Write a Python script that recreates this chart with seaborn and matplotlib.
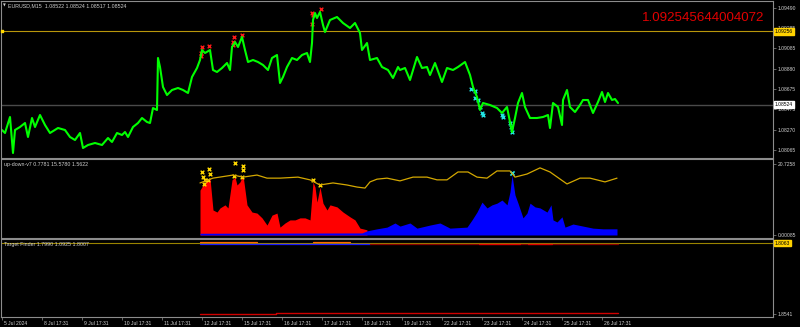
import matplotlib
matplotlib.use("Agg")
import matplotlib.pyplot as plt
import matplotlib.transforms as mtrans
import seaborn as sns

# ---------------- data ----------------
day_ticks = list(range(16))
day_labels = ["5 Jul 2024", "8 Jul 17:31", "9 Jul 17:31", "10 Jul 17:31", "11 Jul 17:31",
              "12 Jul 17:31", "15 Jul 17:31", "16 Jul 17:31", "17 Jul 17:31", "18 Jul 17:31",
              "19 Jul 17:31", "22 Jul 17:31", "23 Jul 17:31", "24 Jul 17:31", "25 Jul 17:31",
              "26 Jul 17:31"]

price_t = [0.000, 0.075, 0.200, 0.275, 0.325, 0.450, 0.575, 0.650, 0.750, 0.825, 0.950, 1.075,
           1.200, 1.400, 1.575, 1.700, 1.825, 1.950, 2.025, 2.150, 2.325, 2.500, 2.650, 2.750,
           2.875, 3.000, 3.075, 3.150, 3.275, 3.400, 3.500, 3.625, 3.700, 3.775, 3.875, 3.900,
           3.950, 4.025, 4.125, 4.250, 4.400, 4.525, 4.650, 4.750, 4.875, 4.950, 5.000, 5.075,
           5.200, 5.275, 5.375, 5.500, 5.625, 5.700, 5.750, 5.825, 5.900, 6.000, 6.075, 6.150,
           6.275, 6.400, 6.525, 6.650, 6.750, 6.875, 6.950, 7.025, 7.125, 7.250, 7.375, 7.500,
           7.625, 7.700, 7.750, 7.775, 7.825, 7.875, 7.950, 8.025, 8.075, 8.200, 8.375, 8.525,
           8.700, 8.825, 8.950, 9.000, 9.125, 9.200, 9.375, 9.500, 9.650, 9.775, 9.900, 9.950,
           10.075, 10.200, 10.375, 10.500, 10.625, 10.700, 10.825, 11.000, 11.125, 11.275,
           11.400, 11.575, 11.700, 11.775, 11.875, 11.950, 12.025, 12.200, 12.375, 12.500,
           12.625, 12.750, 12.825, 12.900, 13.000, 13.075, 13.200, 13.375, 13.525, 13.650,
           13.700, 13.775, 13.900, 14.000, 14.025, 14.125, 14.200, 14.325, 14.450, 14.525,
           14.650, 14.775, 14.900, 15.000, 15.075, 15.150, 15.250, 15.325, 15.400]
price = [1.0827, 1.0824, 1.0840, 1.0804, 1.0827, 1.0830, 1.0834, 1.0820, 1.0839, 1.0830, 1.0842,
         1.0832, 1.0824, 1.0829, 1.0827, 1.0820, 1.0817, 1.0824, 1.0809, 1.0812, 1.0814, 1.0812,
         1.0819, 1.0815, 1.0824, 1.0822, 1.0825, 1.0820, 1.0830, 1.0834, 1.0839, 1.0835, 1.0834,
         1.0849, 1.0847, 1.0899, 1.0890, 1.0870, 1.0862, 1.0867, 1.0869, 1.0867, 1.0864, 1.0880,
         1.0889, 1.0897, 1.0907, 1.0904, 1.0907, 1.0887, 1.0885, 1.0889, 1.0894, 1.0887, 1.0910,
         1.0915, 1.0910, 1.0920, 1.0907, 1.0895, 1.0897, 1.0895, 1.0892, 1.0887, 1.0899, 1.0902,
         1.0874, 1.0880, 1.0890, 1.0899, 1.0897, 1.0902, 1.0904, 1.0895, 1.0914, 1.0937, 1.0944,
         1.0939, 1.0945, 1.0932, 1.0925, 1.0937, 1.0940, 1.0934, 1.0929, 1.0934, 1.0924, 1.0907,
         1.0914, 1.0897, 1.0899, 1.0890, 1.0887, 1.0879, 1.0890, 1.0887, 1.0889, 1.0877, 1.0900,
         1.0889, 1.0890, 1.0882, 1.0894, 1.0875, 1.0889, 1.0887, 1.0890, 1.0895, 1.0882, 1.0870,
         1.0860, 1.0847, 1.0854, 1.0852, 1.0849, 1.0844, 1.0850, 1.0825, 1.0839, 1.0854, 1.0864,
         1.0850, 1.0839, 1.0839, 1.0840, 1.0842, 1.0829, 1.0854, 1.0850, 1.0832, 1.0857, 1.0867,
         1.0850, 1.0845, 1.0852, 1.0857, 1.0857, 1.0844, 1.0855, 1.0865, 1.0855, 1.0864, 1.0857,
         1.0858, 1.0854]

main_ticks = [1.09490, 1.09285, 1.09085, 1.08880, 1.08675, 1.08475, 1.08270, 1.08065]
level_yellow = 1.09256
level_bid = 1.08524

red_mark_t = [5.000, 4.975, 4.975, 5.175, 5.800, 5.775, 5.775, 6.000, 7.750, 7.775, 7.750, 7.975]
red_mark_p = [1.0910, 1.0904, 1.0901, 1.0911, 1.0920, 1.0915, 1.0912, 1.0922, 1.0944, 1.0942, 1.0933, 1.0948]
cyan_mark_t = [11.725, 11.825, 11.825, 11.900, 11.950, 12.000, 12.025, 12.500, 12.525, 12.700, 12.725, 12.750]
cyan_mark_p = [1.0868, 1.0866, 1.0859, 1.0857, 1.0850, 1.0844, 1.0842, 1.0842, 1.0840, 1.0834, 1.0830, 1.0825]

up_t = [4.950, 5.025, 5.125, 5.200, 5.275, 5.375, 5.450, 5.575, 5.650, 5.750, 5.825, 5.875,
        5.950, 6.025, 6.125, 6.250, 6.375, 6.500, 6.625, 6.750, 6.875, 6.950, 7.075, 7.200,
        7.325, 7.450, 7.575, 7.700, 7.775, 7.825, 7.875, 7.950, 8.025, 8.125, 8.200, 8.375,
        8.525, 8.700, 8.825, 8.950, 9.025, 9.125]
up_v = [13.1, 14.6, 16.1, 16.6, 7.3, 6.7, 7.9, 8.8, 7.9, 16.1, 16.9, 14.6, 15.5, 17.5, 8.8, 6.7,
        6.4, 5.0, 2.9, 5.8, 6.4, 2.3, 3.5, 4.4, 4.4, 5.0, 5.0, 4.4, 15.5, 14.0, 9.6, 14.0, 9.3,
        7.3, 8.8, 8.2, 6.7, 5.3, 4.4, 2.0, 1.8, 1.5]
down_t = [4.950, 9.000, 9.125, 9.375, 9.625, 9.825, 9.950, 10.200, 10.375, 10.700, 10.950, 11.200,
          11.625, 11.750, 11.875, 12.000, 12.125, 12.250, 12.375, 12.500, 12.625, 12.700, 12.750,
          12.825, 12.900, 13.025, 13.125, 13.200, 13.325, 13.450, 13.625, 13.725, 13.775, 13.875,
          14.000, 14.075, 14.275, 14.525, 14.775, 15.025, 15.375]
down_v = [0.5, 0.6, 1.2, 1.8, 2.3, 3.5, 2.6, 3.5, 2.0, 2.9, 3.5, 2.0, 2.3, 4.4, 6.7, 9.6, 7.9,
          8.8, 9.3, 10.2, 8.8, 12.6, 17.5, 11.7, 9.3, 5.0, 6.4, 9.3, 8.2, 7.9, 6.7, 8.8, 4.4, 3.8,
          5.3, 2.3, 3.2, 2.6, 2.0, 1.8, 1.8]
sig_t = [4.950, 5.275, 5.775, 6.025, 6.375, 6.625, 6.950, 7.400, 7.700, 7.950, 8.275, 8.625,
         8.875, 9.075, 9.200, 9.375, 9.625, 9.950, 10.275, 10.625, 10.875, 11.125, 11.400, 11.650,
         11.875, 12.125, 12.375, 12.700, 12.825, 13.125, 13.450, 13.700, 14.125, 14.450, 14.700,
         15.075, 15.375]
sig_v = [15.2, 16.6, 17.5, 16.9, 17.5, 16.6, 16.6, 16.9, 16.1, 14.6, 15.2, 14.6, 14.0, 13.7, 15.5,
         16.3, 16.6, 15.8, 16.9, 16.9, 16.1, 16.1, 18.4, 18.4, 16.9, 16.6, 18.7, 18.7, 16.9, 17.8,
         19.6, 18.4, 14.9, 16.6, 16.6, 15.5, 16.6]
ymark_t = [5.000, 5.025, 5.050, 5.075, 5.150, 5.175, 5.200, 5.825, 6.025, 6.025, 5.800, 6.000, 7.775, 7.950]
ymark_v = [18.4, 16.9, 14.9, 16.1, 16.1, 19.3, 17.8, 21.0, 20.1, 19.0, 17.2, 16.9, 16.1, 14.6]
cmark2_t = [12.750]
cmark2_v = [18.1]

tf_level = 1.8063
tf_blue_t = [4.950, 9.200]
tf_blue_v = [1.8073, 1.8073]
tf_orange_segs = [([4.950, 6.375], [1.8058, 1.8058]), ([7.775, 8.700], [1.8058, 1.8058])]
tf_dred_t = [9.200, 15.400]
tf_dred_v = [1.8070, 1.8070]
tf_red_segs = [([11.925, 12.950], [1.8069, 1.8069]), ([13.150, 13.750], [1.8069, 1.8069])]
tf_low_t = [4.950, 6.850, 6.850, 15.400]
tf_low_v = [1.8539, 1.8539, 1.8534, 1.8534]

# ---------------- style ----------------
sns.set_theme(style="dark")
plt.rcParams['font.family'] = ['Liberation Sans', 'DejaVu Sans']
SP = '#8c8c8c'
TXT = '#d0d0d0'
FS = 3.6

fig = plt.figure(figsize=(8, 3.27), dpi=100, facecolor='black')
L, W = 1 / 800, 772 / 800
ax1 = fig.add_axes([L, 169 / 327, W, 157 / 327])
ax2 = fig.add_axes([L, 89 / 327, W, 79 / 327])
ax3 = fig.add_axes([L, 10 / 327, W, 78 / 327])

for ax in (ax1, ax2, ax3):
    ax.set_facecolor('black')
    ax.grid(False)
    for s in ax.spines.values():
        s.set_color(SP)
        s.set_linewidth(0.8)
        s.set_visible(True)
    ax.set_xlim(-0.025, 19.275)
    ax.yaxis.tick_right()
    ax.tick_params(axis='y', which='both', right=True, left=False, labelright=True,
                   labelleft=False, length=2, width=0.5, color=SP, labelsize=FS,
                   labelcolor=TXT, pad=1.5)
    ax.set_xlabel('')
    ax.set_ylabel('')

ax1.set_xticks([])
ax2.set_xticks([])

# ---- main price panel ----
ax1.set_ylim(1.0799, 1.0956)
ax1.set_yticks(main_ticks)
ax1.set_yticklabels([f"{v:.5f}" for v in main_ticks])
ax1.axhline(level_yellow, color='#b8960b', lw=0.8)
ax1.axhline(level_bid, color='#4a4a4a', lw=1.0)
sns.lineplot(x=price_t, y=price, ax=ax1, color='#00ff00', lw=1.5, estimator=None, sort=False)
sns.scatterplot(x=red_mark_t, y=red_mark_p, ax=ax1, marker='x', color='#ff1a1a', s=7, linewidth=1.0)
sns.scatterplot(x=cyan_mark_t, y=cyan_mark_p, ax=ax1, marker='x', color='#22e5e5', s=7, linewidth=1.0)
ax1.scatter([0.0], [level_yellow], marker='s', s=3, color='#ffd700', zorder=5, clip_on=False)
for lvl, fc in ((level_yellow, '#ffd200'), (level_bid, '#ffffff')):
    ax1.annotate(f"{lvl:.5f}", xy=(1.0, lvl), xycoords=('axes fraction', 'data'),
                 xytext=(1.2, 0), textcoords='offset points', fontsize=FS, color='black',
                 va='center', ha='left', annotation_clip=False,
                 bbox=dict(boxstyle='square,pad=0.15', fc=fc, ec=fc))
ax1.set_xlabel('')
ax1.set_ylabel('')

fig.text(3 / 800, 1 - 5.5 / 327, "\u25bc", fontsize=2.6, color=TXT, va='center', ha='left',
         family=['DejaVu Sans'])
fig.text(8 / 800, 1 - 5.5 / 327, "EURUSD,M15  1.08522 1.08524 1.08517 1.08524", fontsize=3.8,
         color=TXT, va='center', ha='left')
fig.text(642 / 800, 1 - 18 / 327, "1.092545644004072", fontsize=9.6, color='#e00000',
         va='center', ha='left')

# ---- up-down panel ----
ax2.set_ylim(-0.88, 22.19)
ax2.fill_between(up_t, 0, up_v, color='#ff0000', lw=0)
ax2.fill_between(down_t, 0, down_v, color='#0000ff', lw=0)
sns.lineplot(x=sig_t, y=sig_v, ax=ax2, color='#d4a800', lw=0.9, estimator=None, sort=False)
sns.scatterplot(x=ymark_t, y=ymark_v, ax=ax2, marker='x', color='#ffd700', s=7, linewidth=1.0)
sns.scatterplot(x=cmark2_t, y=cmark2_v, ax=ax2, marker='x', color='#22e5e5', s=9, linewidth=1.2)
ax2.set_yticks([20.7258, 0.0])
ax2.set_yticklabels(["20.7258", "0.00085"])
ax2.text(0.004, 0.93, "up-down-v7 0.7781 15.5780 1.5622", transform=ax2.transAxes,
         fontsize=3.8, color=TXT, va='center', ha='left')
ax2.set_xlabel('')
ax2.set_ylabel('')

# ---- target finder panel ----
ax3.set_ylim(1.8561, 1.8036)
ax3.axhline(tf_level, color='#9a8400', lw=0.8)
sns.lineplot(x=tf_blue_t, y=tf_blue_v, ax=ax3, color='#1a1aff', lw=0.9, estimator=None)
for xs, ys in tf_orange_segs:
    sns.lineplot(x=xs, y=ys, ax=ax3, color='#ff6a00', lw=0.9, estimator=None)
sns.lineplot(x=tf_dred_t, y=tf_dred_v, ax=ax3, color='#8b0000', lw=0.9, estimator=None)
for xs, ys in tf_red_segs:
    sns.lineplot(x=xs, y=ys, ax=ax3, color='#e00000', lw=0.9, estimator=None)
sns.lineplot(x=tf_low_t, y=tf_low_v, ax=ax3, color='#d00000', lw=1.0, estimator=None, sort=False)
ax3.set_yticks([1.8541])
ax3.set_yticklabels(["1.8541"])
ax3.annotate("1.8063", xy=(1.0, tf_level), xycoords=('axes fraction', 'data'),
             xytext=(1.2, 0), textcoords='offset points', fontsize=FS, color='black',
             va='center', ha='left', annotation_clip=False,
             bbox=dict(boxstyle='square,pad=0.15', fc='#ffd200', ec='#ffd200'))
ax3.text(0.004, 0.93, "Target Finder 1.7990 1.0925 1.8007", transform=ax3.transAxes,
         fontsize=3.8, color=TXT, va='center', ha='left')
ax3.set_xticks(day_ticks)
ax3.set_xticklabels(day_labels)
ax3.tick_params(axis='x', bottom=True, length=2, width=0.5, color=SP, labelsize=FS,
                labelcolor=TXT, pad=1.0)
off = mtrans.ScaledTranslation(1.5 / 100, 0, fig.dpi_scale_trans)
for lab in ax3.get_xticklabels():
    lab.set_ha('left')
    lab.set_transform(lab.get_transform() + off)
ax3.set_xlabel('')
ax3.set_ylabel('')

fig.savefig("out.png", dpi=100, facecolor='black')
